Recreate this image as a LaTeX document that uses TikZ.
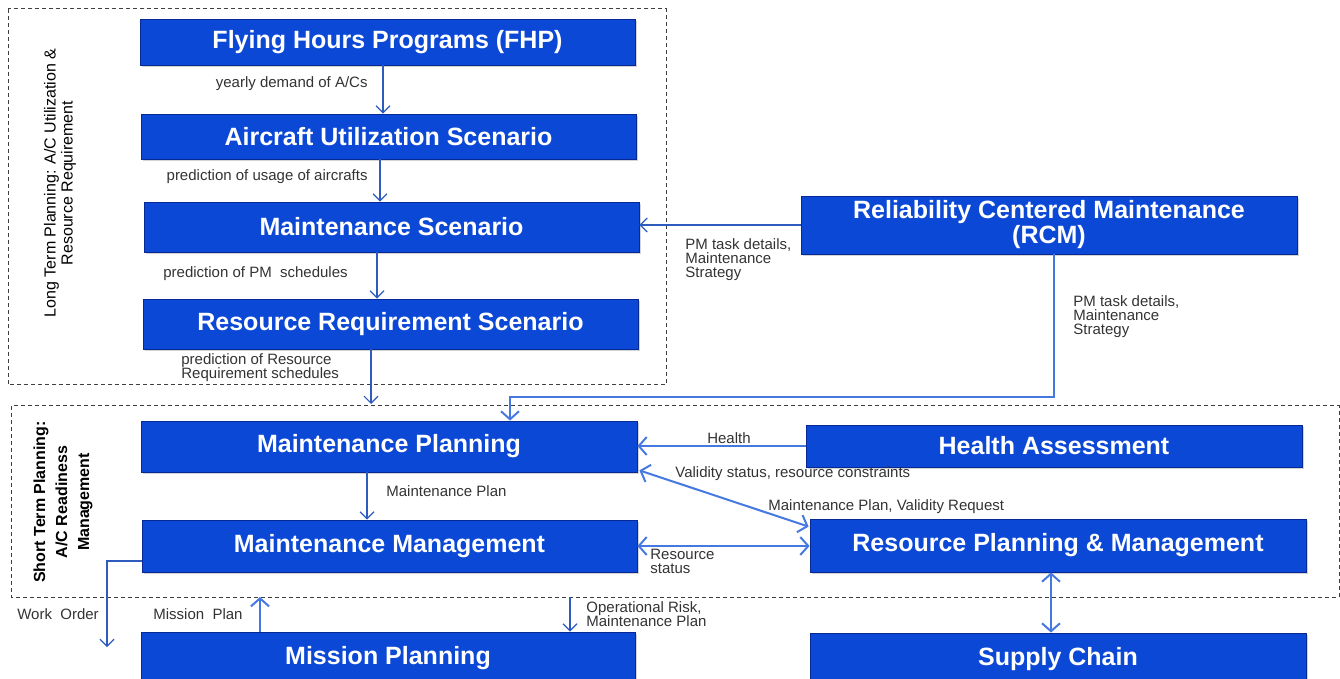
\documentclass[tikz,border=0pt]{standalone}
\usepackage{fontspec}
\setmainfont{Liberation Sans}
\usepackage{tikz}
\usetikzlibrary{arrows.meta,calc,shadows}

\definecolor{boxblue}{RGB}{12,72,214}
\definecolor{boxline}{RGB}{8,40,150}
\definecolor{darkarr}{RGB}{45,92,190}
\definecolor{lightarr}{RGB}{70,120,225}

\begin{document}
\begin{tikzpicture}[x=0.5pt,y=-0.5pt,
    blockbox/.style={draw=boxline,fill=boxblue,text=white,inner sep=0pt,align=center,
      minimum width=247.5pt,minimum height=25pt,
      font=\bfseries\fontsize{12.5}{12.5}\selectfont,
      drop shadow={shadow xshift=1pt,shadow yshift=-1pt,opacity=0.35}},
    lbl/.style={inner sep=0pt,align=left,text=black!80,font=\fontsize{7.5}{7}\selectfont},
    frame/.style={draw=black!75,line width=0.5pt,dash pattern=on 2pt off 1.5pt},
    thinarr/.style={draw=darkarr,line width=0.6pt,-{Straight Barb[length=3.5pt,width=7pt]}},
    thickarr/.style={draw=lightarr,line width=1pt,-{Straight Barb[length=4pt,width=9pt]}},
    twoarr/.style={draw=lightarr,line width=1pt,{Straight Barb[length=4pt,width=9pt]}-{Straight Barb[length=4pt,width=9pt]}}]
  \clip (0,0) rectangle (1340,679);

  % planning frames
  \draw[frame] (8,9) rectangle (666,385);
  \draw[frame] (11,406) rectangle (1339,597);

  \node[rotate=90,align=center,font=\fontsize{8}{8.5}\selectfont] (ltp) at (60,183)
    {Long Term Planning: A/C Utilization \&\\Resource Requirement};
  \node[rotate=90,align=center,font=\bfseries\fontsize{8}{11}\selectfont] (stp) at (63,502)
    {Short Term Planning:\\A/C Readiness\\Management};

  % long term boxes
  \node[blockbox,minimum height=23pt] (fhp) at (387.5,42) {Flying Hours Programs (FHP)};
  \node[blockbox,minimum height=22.5pt] (aus) at (388.5,136.5) {Aircraft Utilization Scenario};
  \node[blockbox] (ms) at (391.5,227) {Maintenance Scenario};
  \node[blockbox] (rrs) at (390.5,324) {Resource Requirement Scenario};
  \node[blockbox,minimum width=248pt,minimum height=29pt] (rcm) at (1049,225)
    {Reliability Centered Maintenance\\(RCM)};

  % short term boxes
  \node[blockbox,minimum width=248pt,minimum height=25.5pt] (mp) at (389,446.5) {Maintenance Planning};
  \node[blockbox,minimum height=26pt] (mm) at (389.5,546) {Maintenance Management};
  \node[blockbox,minimum width=248pt,minimum height=21pt] (ha) at (1054,446) {Health Assessment};
  \node[blockbox,minimum width=248pt,minimum height=26.5pt] (rpm) at (1058,545.5) {Resource Planning \& Management};
  \node[blockbox,minimum width=247pt,minimum height=26pt] (mip) at (388,658) {Mission Planning};
  \node[blockbox,minimum width=248pt,minimum height=26pt] (sc) at (1058,659) {Supply Chain};

  % free ends
  \coordinate (ltb) at (371,404);
  \coordinate (bend) at (510,397);
  \coordinate (wo) at (107,647);
  \coordinate (mpl) at (260,597);
  \coordinate (opr) at (570,597);

  % long term flow
  \draw[thinarr] ($(fhp.south)+(-4.5,0)$) -- ($(aus.north)+(-5.5,0)$);
  \draw[thinarr] ($(aus.south)+(-8.5,0)$) -- ($(ms.north)+(-11.5,0)$);
  \draw[thinarr] ($(ms.south)+(-14.5,0)$) -- ($(rrs.north)+(-13.5,0)$);
  \draw[thinarr] (rrs.south -| ltb) -- (ltb);
  \draw[thinarr] (rcm.west) -- (rcm.west -| ms.east);
  \draw[thickarr] ($(rcm.south)+(5,0)$) |- (bend) -- (bend |- mp.north);

  \node[lbl,anchor=east] (l1) at (368,84) {yearly demand of A/Cs};
  \node[lbl,anchor=east] (l2) at (368,177) {prediction of usage of aircrafts};
  \node[lbl,anchor=west] (l3) at (163,274) {prediction of PM~ schedules};
  \node[lbl,anchor=north west] (l4) at (181,353) {prediction of Resource\\Requirement schedules};
  \node[lbl,anchor=north west] (l5) at (685,238) {PM task details,\\Maintenance\\Strategy};
  \node[lbl,anchor=north west] (l6) at (1073,295) {PM task details,\\Maintenance\\Strategy};

  % short term flow
  \draw[thickarr] (ha.west) -- (ha.west -| mp.east);
  \draw[twoarr] ($(mp.south east)+(2,-2)$) -- ($(rpm.north west)+(-1,8)$);
  \draw[twoarr] (mm.east) -- (mm.east -| rpm.west);
  \draw[thinarr] ($(mp.south)+(-22,0)$) -- ($(mm.north)+(-22.5,0)$);
  \draw[thinarr] ($(mm.west)+(0,15)$) -| (wo);
  \draw[thickarr] (mip.north -| mpl) -- (mpl);
  \draw[thinarr] (opr) -- (opr |- mip.north);
  \draw[twoarr] ($(rpm.south)+(-7,0)$) -- ($(sc.north)+(-7,0)$);

  \node[lbl] (l7) at (729,438) {Health};
  \node[lbl,anchor=west] (l8) at (675,474) {Validity status, resource constraints};
  \node[lbl,anchor=west] (l9) at (768,507) {Maintenance Plan, Validity Request};
  \node[lbl,anchor=north west] (l10) at (650,549) {Resource\\status};
  \node[lbl,anchor=west] (l11) at (386,491) {Maintenance Plan};
  \node[lbl] (l12) at (58,614) {Work~~Order};
  \node[lbl] (l13) at (198,614) {Mission~~Plan};
  \node[lbl,anchor=north west] (l14) at (586,601) {Operational Risk,\\Maintenance Plan};
\end{tikzpicture}
\end{document}
